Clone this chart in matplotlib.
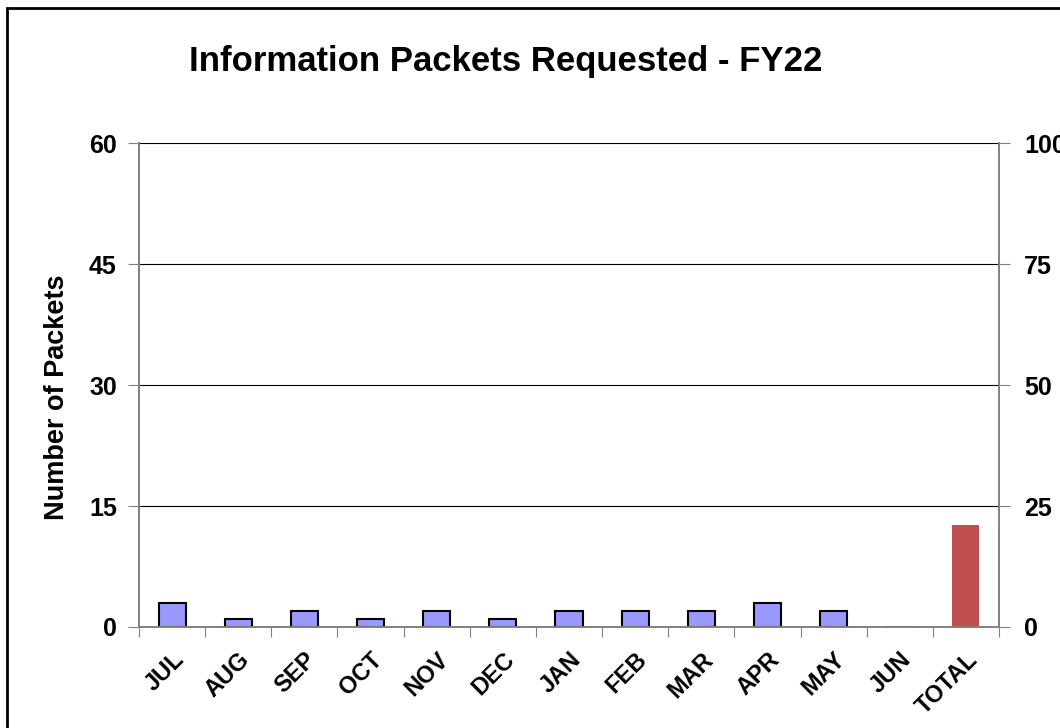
import matplotlib
matplotlib.use('agg')
import matplotlib.pyplot as plt
import numpy as np
from matplotlib.patches import Rectangle

# data
months = ['JUL', 'AUG', 'SEP', 'OCT', 'NOV', 'DEC', 'JAN', 'FEB', 'MAR', 'APR', 'MAY', 'JUN']
packets = [3, 1, 2, 1, 2, 1, 2, 2, 2, 3, 2, 0]
total_label = 'TOTAL'
total_value = 21
left_ticks = [0, 15, 30, 45, 60]
right_ticks = [0, 25, 50, 75, 100]

plt.rcParams['font.family'] = ['Liberation Sans', 'DejaVu Sans']

fig = plt.figure(figsize=(10.6, 7.28), dpi=100)
ax = fig.add_axes([139 / 1060, 1 - 627 / 728, 860 / 1060, 484 / 728])
ax2 = ax.twinx()

labels = months + [total_label]
x = np.arange(len(labels))
ax.bar(x[:-1], packets, width=0.41, color='#9999FF', edgecolor='black', linewidth=1.5, zorder=2)
ax2.bar(x[-1], total_value, width=0.41, color='#C0504D', zorder=2)

ax.set_xlim(-0.5, len(labels) - 0.5)
ax.set_ylim(0, 60)
ax2.set_ylim(0, 100)
ax.set_yticks(left_ticks)
ax2.set_yticks(right_ticks)

ax.yaxis.grid(True, color='black', linewidth=0.8, zorder=0)
ax.set_axisbelow(True)

# ticks at the category boundaries, labels centred on the bars
ax.set_xticks(np.arange(len(labels) + 1) - 0.5)
ax.set_xticklabels([])
ax.set_xticks(x, minor=True)
ax.set_xticklabels(labels, minor=True, rotation=45, ha='right', va='top',
                   rotation_mode='anchor', fontsize=17, fontweight='bold')
ax.tick_params(axis='x', which='minor', length=0, pad=15)
ax.tick_params(axis='x', which='major', length=7, direction='out', color='#808080')
ax.tick_params(axis='y', length=8, direction='out', color='#808080', labelsize=18, pad=8)
ax2.tick_params(axis='y', length=8, direction='out', color='#808080', labelsize=18, pad=10)
for lab in ax.get_yticklabels() + ax2.get_yticklabels():
    lab.set_fontweight('bold')

for a in (ax, ax2):
    a.spines['top'].set_visible(False)
    for s in ('left', 'right', 'bottom'):
        a.spines[s].set_color('#808080')
        a.spines[s].set_linewidth(1.2)

fig.text(57 / 1060, 1 - 397 / 728, 'Number of Packets', rotation=90,
         ha='center', va='center', fontsize=19.5, fontweight='bold')

fig.text(506 / 1060, 1 - 62 / 728, 'Information Packets Requested - FY22',
         ha='center', va='center', fontsize=25, fontweight='bold')

# outer chart border (runs off the right and bottom of the image)
fig.patches.append(Rectangle((7 / 1060, -0.1), 1.2, 1 - 8 / 728 + 0.1,
                             transform=fig.transFigure, fill=False,
                             edgecolor='black', linewidth=2))

fig.savefig('out.png', dpi=100)
